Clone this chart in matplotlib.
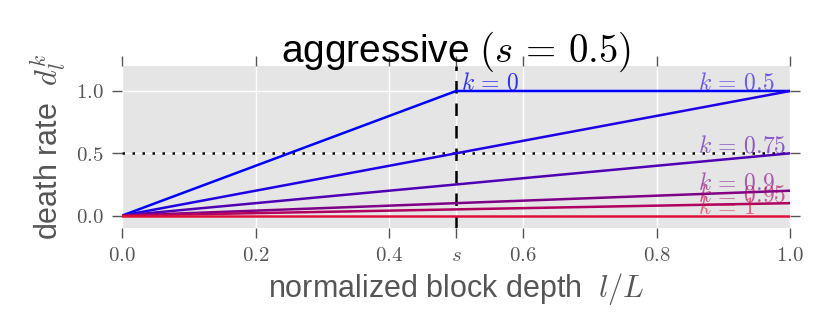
import matplotlib
matplotlib.use('Agg')
import matplotlib.pyplot as plt
import numpy as np

plt.rcParams['font.family'] = ['Liberation Sans', 'DejaVu Sans']
plt.rcParams['mathtext.fontset'] = 'cm'

# データ
s = 0.5
k_values = ['0', '0.5', '0.75', '0.9', '0.95', '1']
x_points = [
    [0.0, 0.5, 1.0],
    [0.0, 1.0],
    [0.0, 1.0],
    [0.0, 1.0],
    [0.0, 1.0],
    [0.0, 1.0],
]
y_points = [
    [0.0, 1.0, 1.0],
    [0.0, 1.0],
    [0.0, 0.5],
    [0.0, 0.2],
    [0.0, 0.1],
    [0.0, 0.0],
]
line_colors = ['#0000ff', '#1e00e6', '#5000b4', '#7e0088', '#b00060', '#e0103c']
xtick_vals = [0.0, 0.2, 0.4, 0.5, 0.6, 0.8, 1.0]
xtick_labels = ['$0.0$', '$0.2$', '$0.4$', '$s$', '$0.6$', '$0.8$', '$1.0$']
ytick_vals = [0.0, 0.5, 1.0]
ytick_labels = ['$0.0$', '$0.5$', '$1.0$']

fig = plt.figure(figsize=(8.3, 3.32), dpi=100)
ax = fig.add_axes([0.147, 0.313, 0.805, 0.488])
ax.set_facecolor('#e5e5e5')
for sp in ax.spines.values():
    sp.set_visible(False)
ax.grid(True, color='white', linewidth=1.0)
ax.set_axisbelow(True)

# 補助線
ax.axhline(0.5, color='black', linestyle=':', linewidth=1.8, dashes=(1, 3))
ax.axvline(s, color='black', linestyle='--', linewidth=1.8, dashes=(5, 4))

for i, k in enumerate(k_values):
    ax.plot(x_points[i], y_points[i], color=line_colors[i], linewidth=1.8)
    label = r'$k\,=\,' + k + '$'
    if i == 0:
        ax.text(0.508, y_points[i][-1] + 0.01, label, color=line_colors[i],
                fontsize=17, ha='left', va='baseline', alpha=0.8)
    else:
        ax.text(0.862, y_points[i][-1] + 0.01, label, color=line_colors[i],
                fontsize=17, ha='left', va='baseline', alpha=0.6)

ax.set_xlim(0, 1)
ax.set_ylim(-0.1, 1.2)
ax.set_xticks(xtick_vals)
ax.set_xticklabels(xtick_labels)
ax.set_yticks(ytick_vals)
ax.set_yticklabels(ytick_labels)
ax.tick_params(direction='out', length=7, width=1, color='#555555', labelcolor='#555555',
               labelsize=15, top=True, right=True, pad=6)

ax.set_title(r'aggressive $(s\,=\,0.5)$', fontsize=28, y=1.025, pad=0)
ax.set_xlabel(r'normalized block depth  $l/L$', fontsize=22, color='#555555', labelpad=4)
ax.set_ylabel(r'death rate  $d_l^k$', fontsize=22, color='#555555', labelpad=6)

plt.savefig('out.png', dpi=100)
